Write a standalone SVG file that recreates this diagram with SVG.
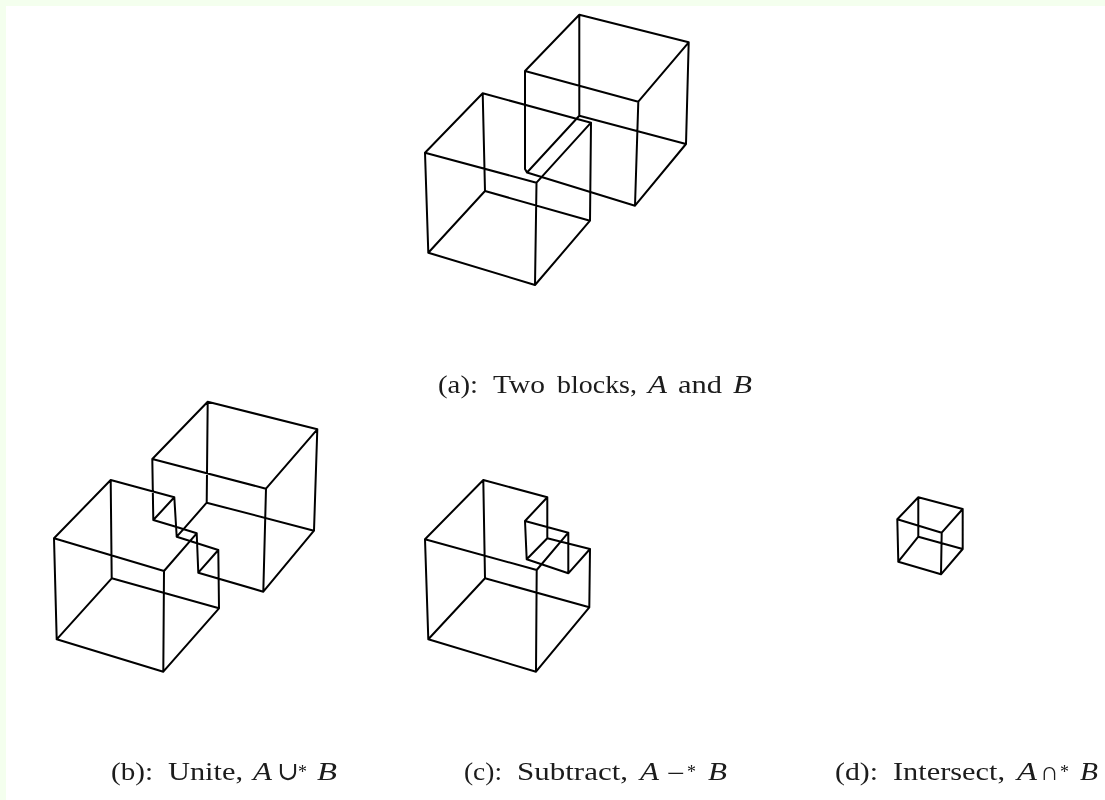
<svg xmlns="http://www.w3.org/2000/svg" width="1105" height="800" viewBox="0 0 1105 800">
<defs><filter id="soft" x="-10%" y="-30%" width="120%" height="160%"><feGaussianBlur stdDeviation="0.45"/></filter></defs>
<style>
.w{fill:none;stroke:#000;stroke-width:2;stroke-linejoin:round;stroke-linecap:round;filter:url(#soft)}
#captions{filter:url(#soft)}
text{font-family:"Liberation Serif","DejaVu Serif",serif;font-size:25px;fill:#1a1a1a}
.i{font-style:italic}
.o{font-size:26px}
.s{font-size:18px}
</style>
<rect width="1105" height="800" fill="#f4ffee"/>
<rect x="6" y="6" width="1099" height="794" fill="#fff"/>
<g id="fig-a">
<path class="w" d="M425 152.7L482.7 93.3L591 122.7L536.5 182.7L425 152.7L428.3 252.7L535 285L590 220.7L485 191L428.3 252.7M482.7 93.3L485 191M536.5 182.7L535 285M591 122.7L590 220.7"/>
<path class="w" d="M579.3 14.7L688.7 42.3L638.3 101.7L525 71L579.3 14.7L579.3 115.7L686 144L635 205.7L527 172.5L579.3 115.7M525 71L525 169L527 172.5M638.3 101.7L635 205.7M688.7 42.3L686 144"/>
</g>
<g id="fig-b">
<path class="w" d="M54 538.3L110.7 480L174.3 497.3L153.3 520L152.3 459L207.7 401.7L317.3 429.3L266 488.7L152.3 459M54 538.3L164 571L196.7 533.3L176.7 527L153.3 520M174.3 497.3L176.7 536.7L218.3 550L198.3 572.7L196.7 533.3M218.3 550L219 608.3L163.3 671.7L56.7 639.3L111.7 578.3L219 608.3M54 538.3L56.7 639.3M110.7 480L111.7 578.3M164 571L163.3 671.7M207.7 401.7L206.7 502.7L183.3 529.3M206.7 502.7L314 530.7L263.3 591.7L198.3 572.7M317.3 429.3L314 530.7M266 488.7L263.3 591.7M176.7 536.7L183.3 529.3"/>
</g>
<g id="fig-c">
<path class="w" d="M425 539.3L483.3 480L547.3 497.3L525 521L568.3 532.7L536.7 570L425 539.3L428.3 639.3L536 671.7L589.3 607.3L485 578.3L428.3 639.3M483.3 480L485 578.3M536.7 570L536 671.7M589.3 607.3L590 549L568.3 573.3L526.7 559.3L525 521M547.3 497.3L547.3 538.3L590 549M547.3 538.3L526.7 559.3M568.3 532.7L568.3 573.3"/>
</g>
<g id="fig-d">
<path class="w" d="M897.3 519.3L918.3 497.3L962.7 509L941.7 532.7L897.3 519.3L898.3 561.7L941 574.3L962.7 549L918.3 536.7L898.3 561.7M918.3 497.3L918.3 536.7M941.7 532.7L941 574.3M962.7 509L962.7 549"/>
</g>
<g id="captions">
<text x="438" y="393" textLength="40" lengthAdjust="spacingAndGlyphs">(a):</text>
<text x="493" y="393" textLength="52" lengthAdjust="spacingAndGlyphs">Two</text>
<text x="557" y="393" textLength="80" lengthAdjust="spacingAndGlyphs">blocks,</text>
<text x="648" y="393" class="i" textLength="19" lengthAdjust="spacingAndGlyphs">A</text>
<text x="678" y="393" textLength="44" lengthAdjust="spacingAndGlyphs">and</text>
<text x="733" y="393" class="i" textLength="19" lengthAdjust="spacingAndGlyphs">B</text>

<text x="111" y="780" textLength="42" lengthAdjust="spacingAndGlyphs">(b):</text>
<text x="168" y="780" textLength="75" lengthAdjust="spacingAndGlyphs">Unite,</text>
<text x="253" y="780" class="i" textLength="19" lengthAdjust="spacingAndGlyphs">A</text>
<text x="277" y="780" class="o">∪</text>
<text x="298" y="778" class="s">*</text>
<text x="317" y="780" class="i" textLength="20" lengthAdjust="spacingAndGlyphs">B</text>

<text x="464" y="780" textLength="38" lengthAdjust="spacingAndGlyphs">(c):</text>
<text x="517" y="780" textLength="111" lengthAdjust="spacingAndGlyphs">Subtract,</text>
<text x="640" y="780" class="i" textLength="19" lengthAdjust="spacingAndGlyphs">A</text>
<text x="667" y="782" class="o" textLength="18" lengthAdjust="spacingAndGlyphs">−</text>
<text x="687" y="778" class="s">*</text>
<text x="708" y="780" class="i" textLength="19" lengthAdjust="spacingAndGlyphs">B</text>

<text x="835" y="780" textLength="43" lengthAdjust="spacingAndGlyphs">(d):</text>
<text x="893" y="780" textLength="112" lengthAdjust="spacingAndGlyphs">Intersect,</text>
<text x="1017" y="780" class="i" textLength="20" lengthAdjust="spacingAndGlyphs">A</text>
<text x="1040" y="780" class="o">∩</text>
<text x="1060" y="778" class="s">*</text>
<text x="1080" y="780" class="i" textLength="18" lengthAdjust="spacingAndGlyphs">B</text>
</g>
</svg>
